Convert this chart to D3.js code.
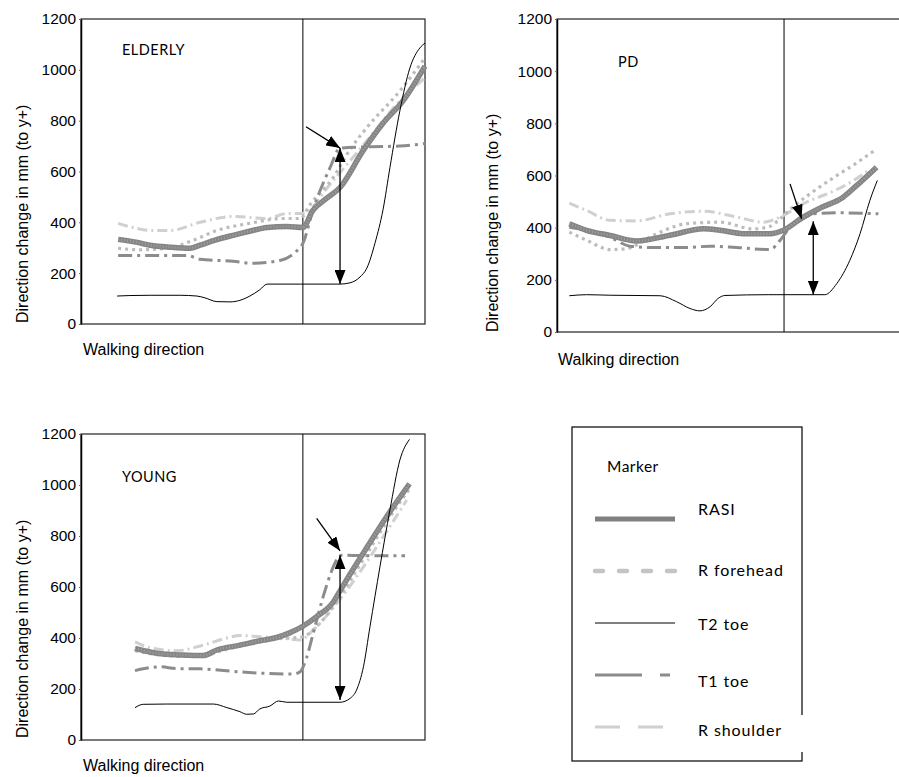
<!DOCTYPE html>
<html>
<head>
<meta charset="utf-8">
<script src="https://cdn.jsdelivr.net/npm/d3@7"></script>
<style>
  html, body { margin: 0; padding: 0; background: #fff; }
  svg { display: block; }
</style>
</head>
<body>
<svg id="chart" width="899" height="777"></svg>
<script>
// ---------------- DATA (x: position along walking direction, 0–100 of frame; y: mm) ----------------
const yTicks = [0, 200, 400, 600, 800, 1000, 1200];
const markerNames = ["RASI", "R forehead", "T2 toe", "T1 toe", "R shoulder"];
const panelNames = ["ELDERLY", "PD", "YOUNG"];
const eventX = 64.5;

// ELDERLY
const elderlyRASI = [[10.8,333],[16,322],[20.1,310],[26,302],[31.7,298],[34.6,310],[39,330],[44.2,349],[49,365],[54.1,380],[59.9,384],[64.5,380],[67.4,447],[71,490],[75.3,537],[82.0,682],[87.8,790],[93.6,878],[100,1015]];
const elderlyForehead = [[10.8,298],[17,292],[25,298],[32.6,329],[39.5,368],[49,396],[58.7,415],[63.7,415],[66.6,470],[73.3,576],[78.2,686],[83.1,773],[92.7,917],[100,1047]];
const elderlyT2 = [[10.5,110],[14.2,112],[20.1,113],[28.8,113],[33.7,110],[36.0,103],[39.5,88],[43.3,87],[46.2,93],[49.1,110],[52.0,135],[54.1,157],[63.7,157],[75.3,157],[78.2,162],[81.1,185],[83.1,220],[85.5,320],[87.8,450],[89.8,615],[92.7,839],[95.6,1007],[98.5,1086],[100,1105]];
const elderlyT1 = [[10.8,270],[20.1,270],[30.8,270],[34.6,255],[44.2,247],[49.7,239],[58.1,251],[62.5,285],[64.5,317],[67.4,447],[72.4,615],[75.3,692],[83.1,697],[92.7,700],[100,710]];
const elderlyShoulder = [[10.8,396],[15,380],[20.1,368],[25.9,368],[34.6,400],[44.2,423],[54.1,415],[59.9,435],[64.2,435],[73.3,565],[83.1,721],[92.7,878],[100,968]];
const elderlyArrowV = [[75.3,157],[75.3,692]];
const elderlyArrowD = [[65.4,776],[75.3,692]];

// PD
const pdRASI = [[3.5,415],[8.4,390],[15.1,370],[22.6,349],[32.1,371],[41.6,396],[46.3,390],[52.9,377],[60.5,377],[64.3,390],[70.0,441],[74.7,475],[81.3,517],[85,560],[90.8,632]];
const pdForehead = [[3.5,383],[8.4,352],[15.1,316],[19.8,320],[27.4,371],[36.8,415],[46.3,421],[55.8,395],[60.5,405],[63,430],[67.1,480],[71.9,530],[79.5,600],[84.2,640],[90.8,702]];
const pdT2 = [[3.5,139],[8.4,143],[15,141],[29.3,139],[34,116],[37.8,90],[40.6,81],[43.5,97],[45.8,129],[47.7,140],[60,143],[76.1,143],[79.5,186],[83.2,275],[86.1,377],[88.9,505],[91.0,581]];
const pdT1 = [[3.5,402],[8.4,390],[15.1,363],[20.7,329],[27.4,324],[36.8,324],[43.5,329],[51.0,324],[60.5,316],[63.4,352],[66.2,402],[70.0,434],[72.8,453],[79.5,457],[91.3,453]];
const pdShoulder = [[3.5,494],[8.4,466],[15.1,428],[22.6,426],[32.1,453],[41.6,463],[51.0,441],[58.6,421],[64.3,447],[70.0,492],[79.0,543],[84.2,580],[89,625]];
const pdArrowV = [[72.8,143],[72.8,425]];
const pdArrowD = [[66.2,568],[69.5,434]];

// YOUNG
const youngRASI = [[15.7,359],[22.0,340],[29.7,333],[35.5,331],[39.5,353],[46.2,372],[52.0,389],[56.9,402],[60.8,421],[64.6,447],[68.5,484],[73.4,542],[75.3,585],[78.2,650],[83.1,755],[89.8,895],[95.5,1005]];
const youngForehead = [[15.7,350],[22,335],[29.7,328],[35.5,328],[39.5,345],[46.2,368],[52,385],[56.9,396],[60.8,400],[64.6,405],[68.5,445],[73.4,525],[78.2,625],[83.1,730],[89.8,875],[95.5,985]];
const youngT2 = [[15.7,127],[18.1,140],[24.9,141],[38.5,141],[42.4,127],[46.2,111],[48.1,101],[50.1,102],[52.0,122],[54.9,133],[57.4,153],[59.8,148],[75.3,148],[78.2,163],[80.1,196],[82.1,287],[84.0,444],[86.9,679],[89.8,902],[92.7,1098],[95.5,1179]];
const youngT1 = [[15.7,272],[23.0,287],[27.8,280],[34.6,279],[44.3,269],[53.9,261],[61.7,259],[63.7,268],[65.5,320],[67.5,418],[70.4,562],[72.5,650],[73.8,693],[75.8,725],[83.1,723],[94.2,723]];
const youngShoulder = [[15.7,385],[20,362],[27.8,350],[35.5,372],[42.4,400],[46.2,410],[52,405],[58,400],[63.7,392],[67.5,431],[73.4,520],[82.1,679],[88,800],[94.7,941]];
const youngArrowV = [[75.3,157],[75.3,725]];
const youngArrowD = [[68.5,869],[75.3,742]];

// ---------------- STYLES ----------------
const styles = {
  "RASI":       { stroke: "#858585", width: 5.5, dash: null, cap: "butt" },
  "R forehead": { stroke: "#bcbcbc", width: 3.2, dash: "3,4", cap: "butt" },
  "T2 toe":     { stroke: "#000", width: 1, dash: null, cap: "butt" },
  "T1 toe":     { stroke: "#8c8c8c", width: 3, dash: "14,5,3,5", cap: "butt" },
  "R shoulder": { stroke: "#d0d0d0", width: 3, dash: "10,4,2,4", cap: "butt" }
};
const legendStyles = {
  "RASI":       { stroke: "#808080", width: 5, dash: null, cap: "butt" },
  "R forehead": { stroke: "#c4c4c4", width: 4.5, dash: "8,16", cap: "round" },
  "T2 toe":     { stroke: "#000", width: 1, dash: null, cap: "butt" },
  "T1 toe":     { stroke: "#8c8c8c", width: 3, dash: "47,18,10,100", cap: "butt" },
  "R shoulder": { stroke: "#d0d0d0", width: 3, dash: "25,18", cap: "butt" }
};

// ---------------- LAYOUT ----------------
const panels = [
  { name: panelNames[0], left: 81, top: 19, right: 425, bottom: 324,
    series: [elderlyShoulder, elderlyForehead, elderlyT1, elderlyRASI, elderlyT2],
    arrowV: elderlyArrowV, arrowD: elderlyArrowD,
    nameAt: [122, 55], ylabAt: [28, 323], xlabAt: [83, 355] },
  { name: panelNames[1], left: 557, top: 19, right: 909, bottom: 332,
    series: [pdShoulder, pdForehead, pdT1, pdRASI, pdT2],
    arrowV: pdArrowV, arrowD: pdArrowD,
    nameAt: [618, 67], ylabAt: [498, 332], xlabAt: [558, 365] },
  { name: panelNames[2], left: 81, top: 434, right: 425, bottom: 740,
    series: [youngShoulder, youngForehead, youngT1, youngRASI, youngT2],
    arrowV: youngArrowV, arrowD: youngArrowD,
    nameAt: [122, 482], ylabAt: [28, 738], xlabAt: [83, 771] }
];
const seriesOrder = ["R shoulder", "R forehead", "T1 toe", "RASI", "T2 toe"];

const svg = d3.select("#chart");
const defs = svg.append("defs");
defs.append("marker")
  .attr("id", "ah").attr("markerUnits", "userSpaceOnUse")
  .attr("markerWidth", 15).attr("markerHeight", 11)
  .attr("refX", 14).attr("refY", 5.5)
  .attr("orient", "auto-start-reverse")
  .append("path").attr("d", "M0,0 L14,5.5 L0,11 Z").attr("fill", "#000");

const sansText = "'Liberation Sans', Arial, sans-serif";
const geoText = "Lato, 'DejaVu Sans', sans-serif";

panels.forEach(p => {
  const x = d3.scaleLinear().domain([0, 100]).range([p.left, p.right]);
  const y = d3.scaleLinear().domain([0, 1200]).range([p.bottom, p.top]);
  const g = svg.append("g");

  // frame
  g.append("rect")
    .attr("x", p.left).attr("y", p.top)
    .attr("width", p.right - p.left).attr("height", p.bottom - p.top)
    .attr("fill", "none").attr("stroke", "#222").attr("stroke-width", 1.2);

  // y axis
  const ax = g.append("g").attr("transform", `translate(${p.left},0)`)
    .call(d3.axisLeft(y).tickValues(yTicks).tickFormat(d3.format("d"))
      .tickSize(2).tickSizeOuter(0).tickPadding(3));
  ax.attr("font-family", sansText).attr("font-size", 15.5);
  ax.selectAll(".tick text").attr("fill", "#000");
  ax.select(".domain").attr("stroke", "#000").attr("stroke-width", 1.5);
  ax.selectAll(".tick line").attr("stroke", "#666");

  // event vertical line
  g.append("line")
    .attr("x1", x(eventX)).attr("x2", x(eventX))
    .attr("y1", p.top).attr("y2", p.bottom)
    .attr("stroke", "#000").attr("stroke-width", 1);

  // series
  const line = d3.line().x(d => x(d[0])).y(d => y(d[1])).curve(d3.curveMonotoneX);
  p.series.forEach((s, i) => {
    const st = styles[seriesOrder[i]];
    g.append("path").datum(s)
      .attr("d", line)
      .attr("fill", "none")
      .attr("stroke", st.stroke)
      .attr("stroke-width", st.width)
      .attr("stroke-dasharray", st.dash)
      .attr("stroke-linecap", st.cap)
      .attr("stroke-linejoin", "round");
    if (seriesOrder[i] === "RASI") {
      g.append("path").datum(s)
        .attr("d", line).attr("fill", "none")
        .attr("stroke", "#a2a2a2").attr("stroke-width", 2.5)
        .attr("stroke-dasharray", "1,2");
    }
  });

  // arrows
  const straight = d3.line().x(d => x(d[0])).y(d => y(d[1]));
  g.append("path").datum(p.arrowV).attr("d", straight)
    .attr("stroke", "#000").attr("stroke-width", 1.3).attr("fill", "none")
    .attr("marker-start", "url(#ah)").attr("marker-end", "url(#ah)");
  g.append("path").datum(p.arrowD).attr("d", straight)
    .attr("stroke", "#000").attr("stroke-width", 1.3).attr("fill", "none")
    .attr("marker-end", "url(#ah)");

  // texts
  g.append("text").attr("x", p.nameAt[0]).attr("y", p.nameAt[1])
    .attr("font-family", geoText).attr("font-size", 14.5).attr("letter-spacing", 0.5)
    .text(p.name);
  g.append("text")
    .attr("transform", `translate(${p.ylabAt[0]},${p.ylabAt[1]}) rotate(-90)`)
    .attr("font-family", sansText).attr("font-size", 16)
    .text("Direction change in mm (to y+)");
  g.append("text").attr("x", p.xlabAt[0]).attr("y", p.xlabAt[1])
    .attr("font-family", sansText).attr("font-size", 16)
    .text("Walking direction");
});

// ---------------- LEGEND ----------------
const lg = svg.append("g");
lg.append("rect").attr("x", 572).attr("y", 427).attr("width", 230).attr("height", 334)
  .attr("fill", "#fff").attr("stroke", "#000").attr("stroke-width", 1.2);
lg.append("rect").attr("x", 690).attr("y", 715).attr("width", 116).attr("height", 37).attr("fill", "#fff");
lg.append("text").attr("x", 607).attr("y", 472)
  .attr("font-family", geoText).attr("font-size", 15.5).attr("letter-spacing", 0.5).text("Marker");

const legendY = d3.scalePoint().domain(markerNames).range([519, 727]);
const legendTextY = { "RASI": 515, "R forehead": 576, "T2 toe": 630, "T1 toe": 687, "R shoulder": 736 };
markerNames.forEach(m => {
  const st = legendStyles[m];
  lg.append("line").attr("x1", 595).attr("x2", 675)
    .attr("y1", legendY(m)).attr("y2", legendY(m))
    .attr("stroke", st.stroke).attr("stroke-width", st.width)
    .attr("stroke-dasharray", st.dash).attr("stroke-linecap", st.cap);
  lg.append("text").attr("x", 698).attr("y", legendTextY[m])
    .attr("font-family", geoText).attr("font-size", 16).attr("letter-spacing", 0.9)
    .text(m);
});
</script>
</body>
</html>
